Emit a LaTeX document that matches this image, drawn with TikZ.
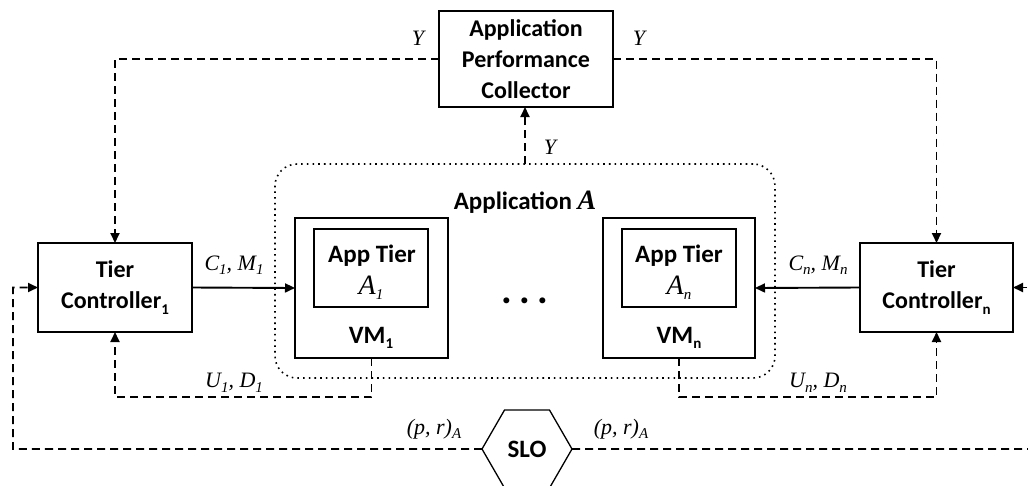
\documentclass[tikz,border=0pt]{standalone}
\usepackage{fontspec}
\setmainfont{Carlito}
\newfontfamily\mf{Liberation Serif}
\usetikzlibrary{arrows.meta,shapes.geometric}
\newcommand\lo[1]{\raisebox{-0.45ex}{\fontsize{15}{15}\selectfont #1}}
\newcommand\mlo[1]{\raisebox{-0.45ex}{\fontsize{15}{15}\selectfont #1}}
\begin{document}
\begin{tikzpicture}[x=1pt,y=-1pt,
  bigbox/.style={draw,line width=2.2pt,font=\bfseries\fontsize{24}{31}\selectfont,align=center,inner sep=0pt,outer sep=0pt},
  thinbox/.style={draw,line width=1.3pt,inner sep=0pt,outer sep=0pt},
  dsh/.style={line width=1.9pt,dash pattern=on 8pt off 5pt},
  arr/.style={-{Triangle[length=10pt,width=9pt]}},
  lab/.style={font=\mf\itshape\fontsize{22}{24}\selectfont,inner sep=0pt},
  btxt/.style={font=\bfseries\fontsize{25}{30}\selectfont,inner sep=0pt,anchor=base}]
\useasboundingbox (0,0) rectangle (1028,485);
\clip (0,0) rectangle (1028,485);

% application container
\node[draw,line width=1.6pt,dash pattern=on 1.6pt off 4.1pt,rounded corners=22pt,
      minimum width=500pt,minimum height=214pt,inner sep=0pt,outer sep=0pt] (app) at (525,271) {};
\node[inner sep=0pt,anchor=base] (applab) at (525,209)
  {\bfseries\fontsize{25}{30}\selectfont Application \mf\itshape\fontsize{28}{30}\selectfont A};

% boxes
\node[bigbox,minimum width=174pt,minimum height=96pt] (apc) at (526,59) {Application\\Performance\\Collector};
\node[bigbox,minimum width=154pt,minimum height=89pt] (tc1) at (115,287.5) {Tier\\Controller\lo{1}};
\node[bigbox,minimum width=153pt,minimum height=89pt] (tcn) at (936.5,287.5) {Tier\\Controller\lo{n}};

\node[thinbox,minimum width=153pt,minimum height=140pt] (vm1) at (371.5,288) {};
\node[thinbox,minimum width=114pt,minimum height=78pt] (a1) at (371,268) {};
\node[thinbox,minimum width=152pt,minimum height=140pt] (vmn) at (679,288) {};
\node[thinbox,minimum width=114pt,minimum height=78pt] (an) at (679,268) {};

\node[btxt] (a1t) at (372,262) {App Tier};
\node[inner sep=0pt,anchor=base] (a1m) at (371,294) {\mf\itshape\fontsize{28}{30}\selectfont A\mlo{1}};
\node[btxt] (ant) at (679,262) {App Tier};
\node[inner sep=0pt,anchor=base] (anm) at (679,294) {\mf\itshape\fontsize{28}{30}\selectfont A\mlo{n}};
\node[btxt] (vm1t) at (371,343) {VM\lo{1}};
\node[btxt] (vmnt) at (679,343) {VM\lo{n}};
\node[inner sep=0pt,anchor=base] (dots) at (525,303) {\bfseries\fontsize{40}{40}\selectfont .\hspace{7pt}.\hspace{7pt}.};

% SLO
\node[draw,line width=1.3pt,regular polygon,regular polygon sides=6,minimum size=90pt,
      inner sep=0pt,outer sep=0pt,font=\bfseries\fontsize{25}{30}\selectfont] (slo) at (527,449) {SLO};

% coordinates for free ends / corners
\coordinate (lc) at (13,449);
\coordinate (rc) at (1040,449);
\coordinate (re) at (1040,287.5);

% connectors
\draw[dsh,arr] (apc.west) -| (tc1.north);
\draw[dsh,arr] (apc.east) -| (tcn.north);
\draw[dsh,arr] (app.north) -- (app.north |- apc.south);
\draw[line width=1.9pt,arr] (tc1.east) -- (vm1.west);
\draw[line width=1.9pt,arr] (tcn.west) -- (vmn.east);
\draw[dsh,arr] (vm1.south) -- ++(0,39) -| (tc1.south);
\draw[dsh,arr] (vmn.south) -- ++(0,39) -| (tcn.south);
\draw[dsh,arr] (slo.west) -- (lc) |- (tc1.west);
\draw[dsh] (slo.east) -- (rc);
\draw[dsh,arr] (re) -- (tcn.east);

% labels
\node[lab] (y1) at (418,38) {Y};
\node[lab] (y2) at (639,38) {Y};
\node[lab] (y3) at (550,147) {Y};
\node[lab] (cm1) at (234,265) {C\mlo{1}, M\mlo{1}};
\node[lab] (ud1) at (234,383) {U\mlo{1}, D\mlo{1}};
\node[lab] (cmn) at (818,265) {C\mlo{n}, M\mlo{n}};
\node[lab] (udn) at (818,383) {U\mlo{n}, D\mlo{n}};
\node[lab] (pr1) at (434,429) {(p, r)\mlo{A}};
\node[lab] (pr2) at (621,429) {(p, r)\mlo{A}};
\end{tikzpicture}
\end{document}
